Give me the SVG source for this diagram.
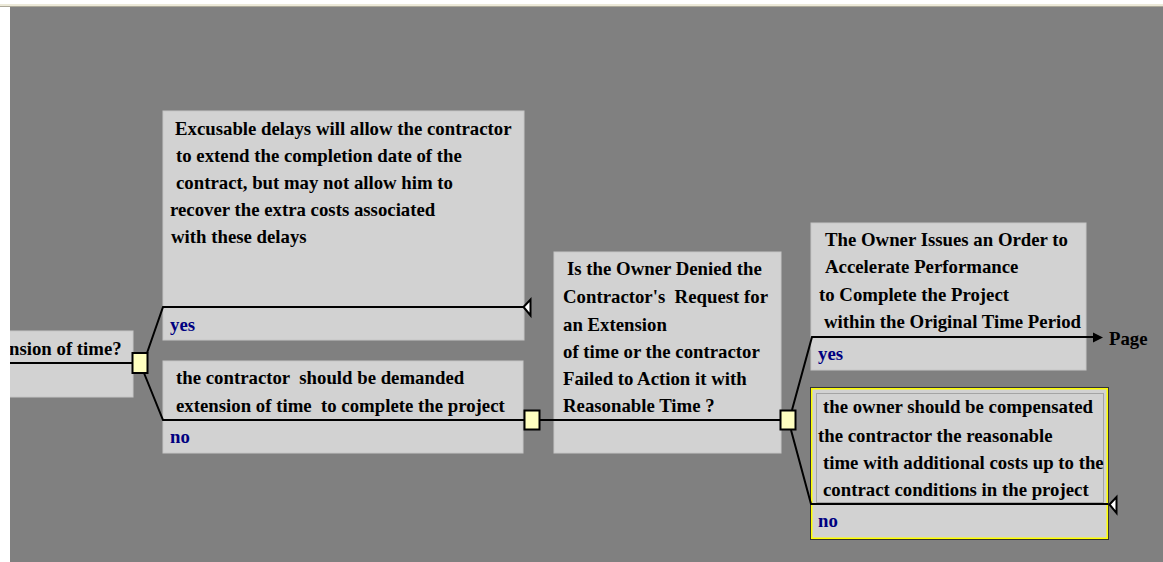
<svg xmlns="http://www.w3.org/2000/svg" width="1163" height="562" viewBox="0 0 1163 562">
  <style>
    .box { fill: #d2d2d2; stroke: #c6c6c6; stroke-width: 1; }
    .t { font-family: "Liberation Serif", "Times New Roman", serif; font-weight: bold; font-size: 18.8px; fill: #000; white-space: pre; }
    .lbl { font-family: "Liberation Serif", "Times New Roman", serif; font-weight: bold; font-size: 18.8px; fill: #000080; }
    .ln { stroke: #000; stroke-width: 2; fill: none; }
    .sq { fill: #ffffc0; stroke: #000; stroke-width: 2; }
    .tri { fill: #fff; stroke: #000; stroke-width: 2; stroke-linejoin: miter; }
  </style>
  <defs>
    <clipPath id="canvasClip"><rect x="10" y="7" width="1153" height="555"/></clipPath>
  </defs>

  <!-- window frame and canvas -->
  <rect x="0" y="0" width="1163" height="562" fill="#ffffff"/>
  <rect x="0" y="4" width="1163" height="2" fill="#ece9d8"/>
  <rect x="0" y="6" width="1163" height="1" fill="#aca899"/>
  <rect x="10" y="7" width="1153" height="555" fill="#808080"/>

  <g clip-path="url(#canvasClip)">
    <!-- incoming question node (partly off canvas) -->
    <g id="node-extension-question">
      <rect class="box" x="0" y="331" width="133" height="66"/>
      <text class="t" x="9" y="355">nsion of time?</text>
    </g>

    <!-- yes branch: excusable delays -->
    <g id="node-excusable">
      <rect class="box" x="163" y="111" width="361" height="229"/>
      <text class="t" x="175" y="135">Excusable delays will allow the contractor</text>
      <text class="t" x="176" y="162">to extend the completion date of the</text>
      <text class="t" x="176" y="189">contract, but may not allow him to</text>
      <text class="t" x="170" y="216">recover the extra costs associated</text>
      <text class="t" x="171" y="243">with these delays</text>
      <text class="lbl" x="170" y="331">yes</text>
    </g>

    <!-- no branch: demand extension -->
    <g id="node-demand-extension">
      <rect class="box" x="163" y="361" width="360" height="92"/>
      <text class="t" x="176" y="384">the contractor  should be demanded</text>
      <text class="t" x="176" y="412">extension of time  to complete the project</text>
      <text class="lbl" x="170" y="443">no</text>
    </g>

    <!-- owner denied question -->
    <g id="node-owner-denied">
      <rect class="box" x="554" y="252" width="227" height="201"/>
      <text class="t" x="567" y="275">Is the Owner Denied the</text>
      <text class="t" x="563" y="303">Contractor's  Request for</text>
      <text class="t" x="563" y="331">an Extension</text>
      <text class="t" x="563" y="358">of time or the contractor</text>
      <text class="t" x="563" y="385">Failed to Action it with</text>
      <text class="t" x="563" y="412">Reasonable Time ?</text>
    </g>

    <!-- yes branch: accelerate order -->
    <g id="node-accelerate">
      <rect class="box" x="811" y="223" width="275" height="147"/>
      <text class="t" x="825" y="246">The Owner Issues an Order to</text>
      <text class="t" x="825" y="273">Accelerate Performance</text>
      <text class="t" x="819" y="301">to Complete the Project</text>
      <text class="t" x="824" y="328">within the Original Time Period</text>
      <text class="lbl" x="818" y="360">yes</text>
    </g>

    <!-- no branch: compensation (selected) -->
    <g id="node-compensation">
      <rect x="810.5" y="387.5" width="298" height="152" fill="#d2d2d2" stroke="#333" stroke-width="1"/>
      <rect x="811.75" y="388.75" width="295.5" height="149.5" fill="none" stroke="#ffff00" stroke-width="1.5"/>
      <rect x="816.5" y="393.5" width="287" height="109" fill="none" stroke="#777" stroke-width="1" stroke-dasharray="1 1"/>
      <text class="t" x="823" y="413">the owner should be compensated</text>
      <text class="t" x="818" y="442">the contractor the reasonable</text>
      <text class="t" x="823" y="469">time with additional costs up to the</text>
      <text class="t" x="823" y="496">contract conditions in the project</text>
      <text class="lbl" x="818" y="527">no</text>
    </g>

    <!-- off-page reference -->
    <g id="node-page">
      <text class="t" x="1109" y="345">Page</text>
    </g>

    <!-- connectors -->
    <g id="connectors">
      <line class="ln" x1="0" y1="363" x2="133" y2="363"/>
      <polyline class="ln" points="147,353 163,307 523,307"/>
      <polyline class="ln" points="144,373 163,420 524,420"/>
      <line class="ln" x1="540" y1="420" x2="780" y2="420"/>
      <polyline class="ln" points="792,410 812,337 1095,337"/>
      <polygon points="1103,337.5 1093,332.5 1093,342.5" fill="#000"/>
      <polyline class="ln" points="791,430 811,504 1108,504"/>
      <polygon class="tri" points="523.5,307 530.5,299.5 530.5,315.5"/>
      <polygon class="tri" points="1109.5,504.5 1116.5,497 1116.5,513"/>
      <rect class="sq" x="132.5" y="353" width="15" height="20"/>
      <rect class="sq" x="524.5" y="410.5" width="15" height="19"/>
      <rect class="sq" x="780.5" y="410.5" width="15" height="19"/>
    </g>
  </g>
</svg>
